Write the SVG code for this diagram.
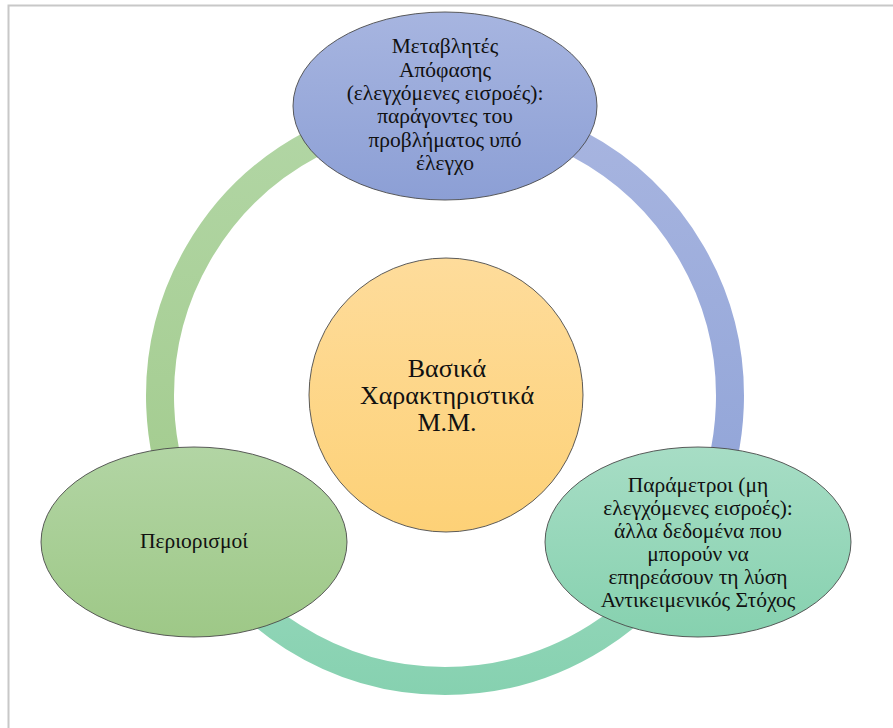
<svg xmlns="http://www.w3.org/2000/svg" width="893" height="728" viewBox="0 0 893 728">
<style>
.t{font-family:"Liberation Serif","Times New Roman",serif;fill:#111;text-anchor:middle}
.s{font-size:21.5px}
.c{font-size:26px}
.n{stroke:#4a4a4a;stroke-width:0.9}
.ring{fill:none;stroke-width:28}
</style>
<defs>
<linearGradient id="gTop" x1="0" y1="0" x2="0" y2="1"><stop offset="0" stop-color="#a7b5e0"/><stop offset="1" stop-color="#8c9fd5"/></linearGradient>
<linearGradient id="gCen" x1="0" y1="0" x2="0" y2="1"><stop offset="0" stop-color="#fedc9b"/><stop offset="1" stop-color="#fdd177"/></linearGradient>
<linearGradient id="gLeft" x1="0" y1="0" x2="0" y2="1"><stop offset="0" stop-color="#b2d5a4"/><stop offset="1" stop-color="#9ec887"/></linearGradient>
<linearGradient id="gRight" x1="0" y1="0" x2="0" y2="1"><stop offset="0" stop-color="#a7ddc5"/><stop offset="1" stop-color="#86d1af"/></linearGradient>
<linearGradient id="aR" gradientUnits="userSpaceOnUse" x1="0" y1="111" x2="0" y2="540"><stop offset="0" stop-color="#a8b5e0"/><stop offset="1" stop-color="#8fa3d7"/></linearGradient>
<linearGradient id="aB" gradientUnits="userSpaceOnUse" x1="0" y1="540" x2="0" y2="695"><stop offset="0" stop-color="#98d8bc"/><stop offset="1" stop-color="#86d1b0"/></linearGradient>
<linearGradient id="aL" gradientUnits="userSpaceOnUse" x1="0" y1="111" x2="0" y2="540"><stop offset="0" stop-color="#b2d6a5"/><stop offset="1" stop-color="#a2cb8d"/></linearGradient>
</defs>
<rect width="893" height="728" fill="#fff"/>
<path d="M8.5 728 V5.5 H893" fill="none" stroke="#c8c8c8" stroke-width="2"/>
<g id="connectors">
<path class="ring" stroke="url(#aR)" d="M445 111 A285 285 0 0 1 691.8 538.5"/>
<path class="ring" stroke="url(#aB)" d="M691.8 538.5 A285 285 0 0 1 198.2 538.5"/>
<path class="ring" stroke="url(#aL)" d="M198.2 538.5 A285 285 0 0 1 445 111"/>
</g>
<g id="center">
<circle class="n" cx="446" cy="395" r="137" fill="url(#gCen)"/>
<text class="t c" x="447" y="377">Βασικά</text>
<text class="t c" x="447" y="404">Χαρακτηριστικά</text>
<text class="t c" x="447" y="431">Μ.Μ.</text>
</g>
<g id="top">
<ellipse class="n" cx="445" cy="106" rx="152" ry="94" fill="url(#gTop)"/>
<text class="t s" x="445" y="53">Μεταβλητές</text>
<text class="t s" x="445" y="76.5">Απόφασης</text>
<text class="t s" x="445" y="100">(ελεγχόμενες εισροές):</text>
<text class="t s" x="445" y="123">παράγοντες του</text>
<text class="t s" x="445" y="146.5">προβλήματος υπό</text>
<text class="t s" x="445" y="170">έλεγχο</text>
</g>
<g id="left">
<ellipse class="n" cx="194" cy="542" rx="153" ry="95" fill="url(#gLeft)"/>
<text class="t s" x="194" y="548">Περιορισμοί</text>
</g>
<g id="right">
<ellipse class="n" cx="698" cy="542" rx="153" ry="95" fill="url(#gRight)"/>
<text class="t s" x="698" y="492">Παράμετροι (μη</text>
<text class="t s" x="698" y="515">ελεγχόμενες εισροές):</text>
<text class="t s" x="698" y="538">άλλα δεδομένα που</text>
<text class="t s" x="698" y="561">μπορούν να</text>
<text class="t s" x="698" y="584">επηρεάσουν τη λύση</text>
<text class="t s" x="698" y="607">Αντικειμενικός Στόχος</text>
</g>
</svg>
